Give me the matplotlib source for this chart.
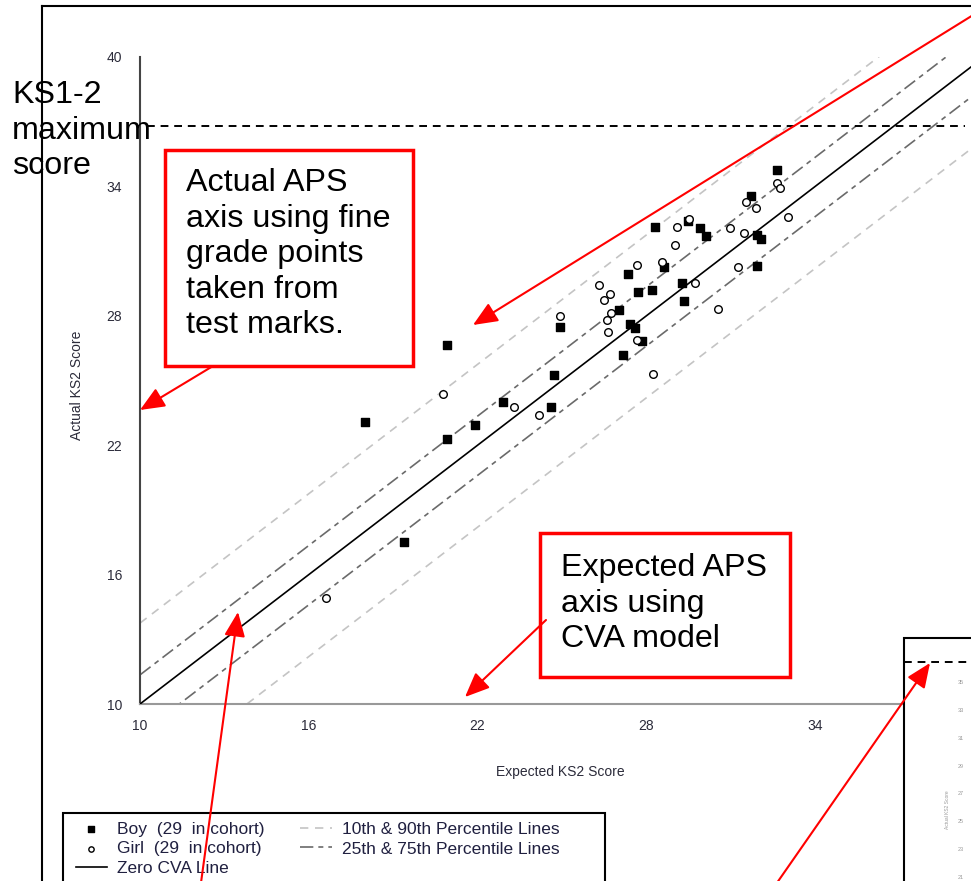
import numpy as np
import matplotlib
matplotlib.use("Agg")
import matplotlib.pyplot as plt
from matplotlib.patches import Rectangle, FancyArrowPatch
from matplotlib.lines import Line2D

# ----------------------------
# Dati
# ----------------------------
boy_expected = [18.0, 20.9, 20.9, 21.89, 22.92, 24.6, 24.7, 19.4, 24.93, 27.33,
                27.7, 28.19, 27.04, 27.42, 27.6, 27.84, 27.18, 28.63, 28.31, 29.89,
                30.11, 31.93, 32.07, 31.72, 32.64, 31.93, 29.26, 29.34, 29.48]
boy_actual = [23.09, 26.65, 22.27, 22.94, 24.02, 23.79, 25.25, 17.53, 27.49, 29.92,
              29.09, 29.2, 28.27, 27.62, 27.42, 26.85, 26.18, 30.26, 32.13, 32.06,
              31.71, 31.75, 31.56, 33.57, 34.76, 30.31, 29.51, 28.7, 32.39]

girl_expected = [16.61, 20.78, 23.3, 24.19, 24.93, 26.33, 26.71, 26.51, 26.74, 26.59,
                 26.65, 27.66, 28.25, 27.66, 28.55, 29.0, 29.08, 29.5, 30.98, 31.48,
                 31.27, 29.73, 30.53, 31.55, 31.88, 32.64, 32.76, 33.02]
girl_actual = [14.9, 24.37, 23.78, 23.4, 27.99, 29.43, 29.0, 28.73, 28.12, 27.81,
               27.26, 26.88, 25.29, 30.36, 30.51, 31.28, 32.13, 32.47, 32.06, 31.85,
               30.28, 29.53, 28.3, 33.29, 32.98, 34.14, 33.91, 32.59]

# linee percentili: scarto rispetto alla linea CVA zero
p10_p90 = [-3.8, 3.75]
p25_p75 = [-1.4, 1.35]
line_x = np.array([10, 40])

max_score = 36.8          # KS1-2 maximum score (linea tratteggiata)
x_ticks = [10, 16, 22, 28, 34]
y_ticks = [10, 16, 22, 28, 34, 40]
inset_ticks = [35, 33, 31, 29, 27, 25, 23, 21]

# ----------------------------
# Figura (coordinate in pixel -> frazioni)
# ----------------------------
W, H = 971, 881
fig = plt.figure(figsize=(W / 100, H / 100), dpi=100)
plt.rcParams["font.family"] = ["Liberation Sans", "DejaVu Sans"]


def fx(px):
    return px / W


def fy(py):
    return 1 - py / H


ax = fig.add_axes([fx(140), fy(704), (984 - 140) / W, (704 - 57) / H])
ax.set_xlim(10, 40)
ax.set_ylim(10, 40)

ax.plot(line_x, line_x, color="black", lw=1.2, label="Zero CVA Line", zorder=3)
for i, off in enumerate(p10_p90):
    ax.plot(line_x, line_x + off, color="#c4c4c4", lw=1.2, dashes=(5, 4),
            label="10th & 90th Percentile Lines" if i == 0 else None, zorder=2)
for i, off in enumerate(p25_p75):
    ax.plot(line_x, line_x + off, color="#6a6a6a", lw=1.2, dashes=(8, 3, 3, 3),
            label="25th & 75th Percentile Lines" if i == 0 else None, zorder=2)

ax.scatter(boy_expected, boy_actual, marker="s", s=30, color="black",
           label="Boy  (29  in cohort)", zorder=4)
ax.scatter(girl_expected, girl_actual, marker="o", s=30, facecolor="white",
           edgecolor="black", linewidths=1, label="Girl  (29  in cohort)", zorder=4)

# linea punteggio massimo
ax.plot([10.25, 39.33], [max_score, max_score], color="black", lw=1.4,
        dashes=(4, 3), zorder=5)

ax.set_xticks(x_ticks)
ax.set_yticks(y_ticks)
ax.tick_params(length=0, labelsize=10, labelcolor="#2b2b3a")
ax.tick_params(axis="y", pad=13)
ax.tick_params(axis="x", pad=11)
for s in ["top", "right"]:
    ax.spines[s].set_visible(False)
ax.spines["left"].set_color("#444444")
ax.spines["left"].set_linewidth(1.5)
ax.spines["bottom"].set_color("#999999")
ax.spines["bottom"].set_linewidth(1.5)

ax.set_xlabel("Expected KS2 Score", fontsize=10, color="#2b2b3a")
ax.set_ylabel("Actual KS2 Score", fontsize=10, color="#2b2b3a")
ax.xaxis.set_label_coords(fx(560), fy(765), transform=fig.transFigure)
ax.yaxis.set_label_coords(fx(84), fy(385), transform=fig.transFigure)

# legenda: cornice disegnata a parte (la slide la taglia in basso)
ax.add_patch(Rectangle((fx(63), fy(890)), (605 - 63) / W, (890 - 813) / H,
                       facecolor="white", edgecolor="black", lw=1.5,
                       transform=fig.transFigure, clip_on=False, zorder=4.8))
h, l = ax.get_legend_handles_labels()
order = [l.index("Boy  (29  in cohort)"), l.index("Girl  (29  in cohort)"),
         l.index("Zero CVA Line"), l.index("10th & 90th Percentile Lines"),
         l.index("25th & 75th Percentile Lines")]
leg = ax.legend([h[i] for i in order], [l[i] for i in order], ncol=2,
                loc="upper left", bbox_to_anchor=(fx(67), fy(813)),
                bbox_transform=fig.transFigure, borderaxespad=0,
                fontsize=12.5, frameon=False,
                handlelength=1.8, handletextpad=0.6, columnspacing=2.05,
                labelspacing=0.26, borderpad=0.5, scatterpoints=1,
                markerscale=0.7)
leg.set_zorder(5)
for t in leg.get_texts():
    t.set_color("#202040")

# ----------------------------
# Annotazioni della slide
# ----------------------------
# cornice esterna
fig.add_artist(Line2D([fx(42), fx(42)], [fy(6), fy(890)], color="black",
                      lw=1.5, transform=fig.transFigure, zorder=3))
fig.add_artist(Line2D([fx(42), fx(980)], [fy(6), fy(6)], color="black",
                      lw=1.5, transform=fig.transFigure, zorder=3))

# riquadro del grafico piccolo a destra
fig.add_artist(Rectangle((fx(904), fy(890)), (990 - 904) / W, (890 - 638) / H,
                         facecolor="white", edgecolor="black", lw=1.5,
                         transform=fig.transFigure, zorder=4))
fig.add_artist(Line2D([fx(904), fx(980)], [fy(662), fy(662)], color="black",
                      lw=1.4, dashes=(4, 3), transform=fig.transFigure, zorder=5))
ax_in = fig.add_axes([fx(965), 0, 6 / W, (881 - 662) / H], zorder=6)
ax_in.set_facecolor("none")
ax_in.set_ylim(20.71, 36.44)
ax_in.set_yticks(inset_ticks)
ax_in.set_xticks([])
ax_in.tick_params(length=0, labelsize=4, labelcolor="#999999", pad=1)
for s in ax_in.spines.values():
    s.set_visible(False)
ax_in.set_ylabel("Actual KS2 Score", fontsize=3.5, color="#999999")
ax_in.yaxis.set_label_coords(fx(950), fy(810), transform=fig.transFigure)

# testi
txt = dict(fontsize=23.2, va="top", ha="left", linespacing=1.24, zorder=8)
fig.text(fx(12), fy(80), "KS1-2\nmaximum\nscore", **txt)

fig.add_artist(Rectangle((fx(165), fy(366)), (413 - 165) / W, (366 - 150) / H,
                         facecolor="white", edgecolor="red", lw=2.5,
                         transform=fig.transFigure, zorder=7))
fig.text(fx(186), fy(168), "Actual APS\naxis using fine\ngrade points\ntaken from\ntest marks.",
         **txt)

fig.add_artist(Rectangle((fx(540), fy(677)), (790 - 540) / W, (677 - 533) / H,
                         facecolor="white", edgecolor="red", lw=2.5,
                         transform=fig.transFigure, zorder=7))
fig.text(fx(561), fy(553), "Expected APS\naxis using\nCVA model", **txt)

# frecce rosse
arrows = [((213, 366), (140, 410)),
          ((978, 12), (473, 325)),
          ((546, 620), (465, 697)),
          ((200, 890), (238, 612)),
          ((772, 890), (930, 663))]
for (x0, y0), (x1, y1) in arrows:
    fig.add_artist(FancyArrowPatch((fx(x0), fy(y0)), (fx(x1), fy(y1)),
                                   transform=fig.transFigure,
                                   arrowstyle="-|>,head_length=0.75,head_width=0.32",
                                   mutation_scale=20, color="red", lw=1.5,
                                   shrinkA=0, shrinkB=0, zorder=9))

fig.savefig("out.png", dpi=100)
